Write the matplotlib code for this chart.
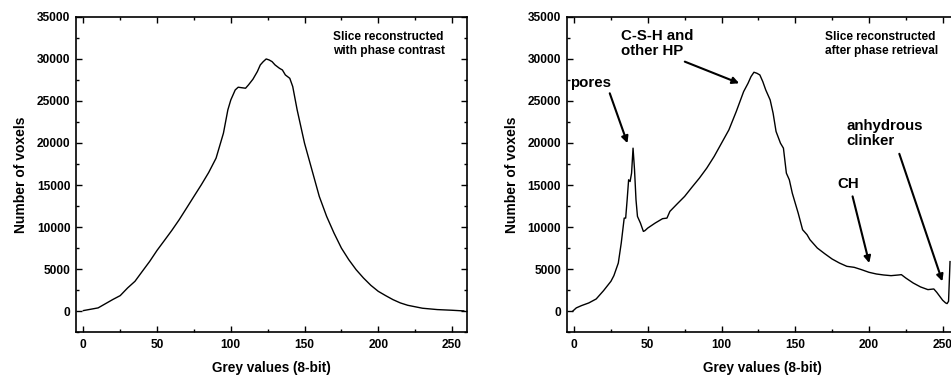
import matplotlib
matplotlib.use("Agg")
import matplotlib.pyplot as plt
from matplotlib.ticker import MultipleLocator

plt.rcParams['font.family'] = ['Liberation Sans', 'DejaVu Sans']
plt.rcParams['font.weight'] = 'bold'

# Left panel: slice reconstructed with phase contrast
grey_left = [0, 10, 20, 25, 30, 35, 40, 45, 50, 55, 60, 65, 70, 75, 80, 85, 90, 95, 98,
             100, 103, 105, 110, 112, 115, 118, 120, 122, 124, 126, 128, 130, 133, 135,
             137, 140, 142, 145, 148, 150, 155, 160, 165, 170, 175, 180, 185, 190, 195,
             200, 205, 210, 215, 220, 230, 240, 250, 258]
voxels_left = [80, 400, 1400, 1860, 2770, 3560, 4750, 5930, 7240, 8420, 9610, 10880,
               12260, 13650, 15030, 16490, 18190, 21160, 23930, 25110, 26300, 26620,
               26500, 26900, 27570, 28480, 29270, 29660, 29980, 29860, 29660, 29270,
               28870, 28670, 28080, 27680, 26700, 23930, 21550, 19970, 16810, 13650,
               11270, 9290, 7510, 6130, 4940, 3950, 3080, 2370, 1860, 1380, 990, 710,
               360, 200, 120, 40]

# Right panel: slice reconstructed after phase retrieval
grey_right = [-1, 1.5, 5, 10, 15, 20, 25, 27, 30, 32, 34, 35, 36, 37, 38, 39, 40, 41, 42,
              43, 45, 47, 48, 50, 55, 60, 63, 65, 70, 75, 80, 85, 90, 95, 100, 105, 110,
              115, 118, 120, 122, 124, 126, 128, 130, 133, 135, 137, 140, 142, 144, 146,
              148, 150, 152, 155, 158, 160, 165, 170, 175, 180, 185, 190, 195, 200, 205,
              210, 215, 220, 222, 225, 230, 235, 240, 244, 246, 248, 250, 252, 253, 254,
              255]
voxels_right = [0, 400, 670, 990, 1460, 2450, 3560, 4230, 5730, 8110, 11070, 11070, 13250,
                15620, 15420, 16410, 19380, 16810, 13250, 11270, 10480, 9490, 9570, 9890,
                10480, 11000, 11070, 11870, 12770, 13650, 14750, 15820, 17010, 18390,
                19970, 21550, 23730, 26100, 27090, 27880, 28400, 28280, 28080, 27290,
                26300, 25110, 23530, 21360, 19970, 19380, 16410, 15620, 14040, 12850,
                11670, 9690, 9100, 8500, 7510, 6840, 6210, 5730, 5340, 5220, 4940, 4630,
                4430, 4310, 4230, 4310, 4350, 3950, 3360, 2890, 2570, 2650, 2250, 1780,
                1310, 990, 910, 1190, 5900]

x_ticks = [0, 50, 100, 150, 200, 250]
y_ticks = [0, 5000, 10000, 15000, 20000, 25000, 30000, 35000]

fig = plt.figure(figsize=(9.51, 3.78), dpi=100)
W, H = 951, 378
ax_w = 390.7 / W
ax_h = (332.3 - 16.7) / H
bottom = (H - 332.3) / H
axL = fig.add_axes([76 / W, bottom, ax_w, ax_h])
axR = fig.add_axes([566.7 / W, bottom, ax_w, ax_h])

for ax in (axL, axR):
    ax.set_xlim(-5, 260)
    ax.set_ylim(-2500, 35000)
    ax.set_xticks(x_ticks)
    ax.set_yticks(y_ticks)
    ax.xaxis.set_minor_locator(MultipleLocator(25))
    ax.yaxis.set_minor_locator(MultipleLocator(2500))
    ax.tick_params(which='both', direction='in', top=True, right=True, width=1.0,
                   labelsize=8.6, colors='black')
    ax.tick_params(which='major', length=4)
    ax.tick_params(which='minor', length=2.5)
    ax.tick_params(axis='x', pad=5)
    ax.tick_params(axis='y', pad=4)
    for lab in ax.get_xticklabels() + ax.get_yticklabels():
        lab.set_fontweight('bold')
    for s in ax.spines.values():
        s.set_linewidth(1.2)
    ax.set_xlabel('Grey values (8-bit)', fontsize=9.8, fontweight='bold', labelpad=7)
    ax.set_ylabel('Number of voxels', fontsize=10, fontweight='bold', labelpad=6)

axL.plot(grey_left, voxels_left, color='black', lw=1.0)
axR.plot(grey_right, voxels_right, color='black', lw=1.0)

axL.text(169.6, 33300, 'Slice reconstructed\nwith phase contrast', fontsize=8.6,
         fontweight='bold', ha='left', va='top', linespacing=1.2)
axR.text(170.1, 33300, 'Slice reconstructed\nafter phase retrieval', fontsize=8.6,
         fontweight='bold', ha='left', va='top', linespacing=1.2)

arrow = dict(arrowstyle='-|>', color='black', lw=1.5, mutation_scale=10,
             shrinkA=0, shrinkB=0)
axR.text(32.1, 33500, 'C-S-H and\nother HP', fontsize=10.8, fontweight='bold',
         ha='left', va='top', linespacing=1.1)
axR.annotate('', xy=(112, 27090), xytext=(75.1, 29660), arrowprops=arrow)
axR.text(-2.5, 27900, 'pores', fontsize=10.8, fontweight='bold', ha='left', va='top')
axR.annotate('', xy=(36.2, 19970), xytext=(24.2, 25900), arrowprops=arrow)
axR.text(184.8, 22900, 'anhydrous\nclinker', fontsize=10.8, fontweight='bold',
         ha='left', va='top', linespacing=1.1)
axR.annotate('', xy=(249.8, 3560), xytext=(220.6, 18710), arrowprops=arrow)
axR.text(178.5, 16000, 'CH', fontsize=10.8, fontweight='bold', ha='left', va='top')
axR.annotate('', xy=(200.2, 5730), xytext=(188.9, 13650), arrowprops=arrow)

fig.savefig('out.png', dpi=100)
